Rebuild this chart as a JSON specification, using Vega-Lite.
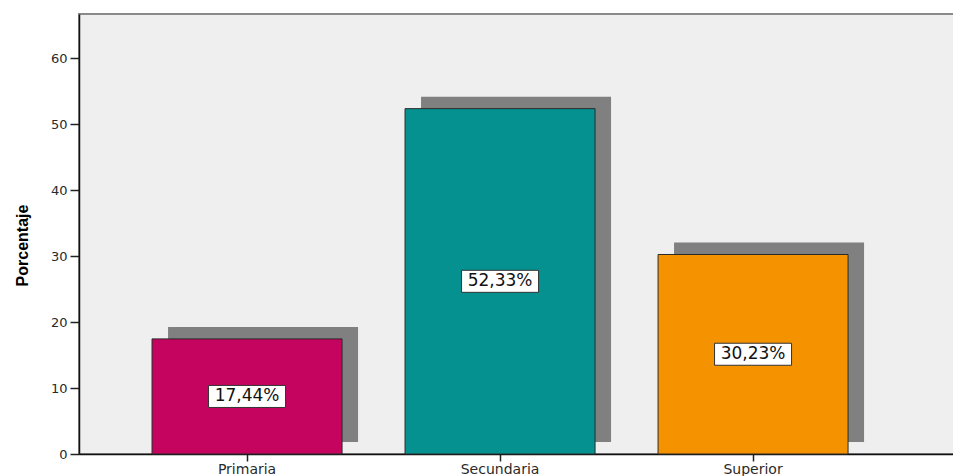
{
  "$schema": "https://vega.github.io/schema/vega-lite/v6.json",
  "width": 880,
  "height": 440,
  "autosize": {"type": "none"},
  "padding": {"left": 79, "top": 14, "right": 0, "bottom": 22},
  "background": "white",
  "config": {
    "locale": {"number": {"decimal": ",", "thousands": ".", "grouping": [3], "currency": ["", " €"]}},
    "view": {"fill": "#efefef", "stroke": "#8a8a8a", "strokeWidth": 2},
    "font": "DejaVu Sans"
  },
  "data": {
    "values": [
      {"nivel": "Primaria", "porcentaje": 17.44},
      {"nivel": "Secundaria", "porcentaje": 52.33},
      {"nivel": "Superior", "porcentaje": 30.23}
    ]
  },
  "encoding": {
    "x": {
      "field": "nivel",
      "type": "nominal",
      "sort": null,
      "scale": {"paddingInner": 0.249, "paddingOuter": 0.3636, "align": 0.397},
      "axis": {
        "title": null,
        "labelAngle": 0,
        "labelFont": "DejaVu Sans",
        "labelFontSize": 14,
        "labelColor": "#2a2a2a",
        "labelPadding": 1,
        "tickColor": "#222222",
        "tickSize": 7,
        "tickWidth": 1.5,
        "domainColor": "#111111",
        "domainWidth": 1.5
      }
    }
  },
  "layer": [
    {
      "layer": [
        {
          "mark": {"type": "bar", "color": "#808080", "xOffset": 16, "x2Offset": 16, "yOffset": -12, "y2Offset": -11},
          "encoding": {
            "y": {
              "field": "porcentaje",
              "type": "quantitative",
              "scale": {"domain": [0, 66.67], "nice": false},
              "axis": {
                "values": [0, 10, 20, 30, 40, 50, 60],
                "grid": false,
                "title": "Porcentaje",
                "titleFont": "Liberation Sans",
                "titleFontWeight": "bold",
                "titleFontSize": 16,
                "titleColor": "#000000",
                "titleBaseline": "middle",
                "titleX": -57,
                "titleY": 231,
                "labelFont": "DejaVu Sans",
                "labelFontSize": 13,
                "labelColor": "#2a2a2a",
                "labelPadding": 3,
                "tickColor": "#222222",
                "tickSize": 9,
                "tickWidth": 1.5,
                "domainColor": "#111111",
                "domainWidth": 1.5
              }
            }
          }
        },
        {
          "mark": {"type": "bar", "stroke": "#2a2a2a", "strokeWidth": 1},
          "encoding": {
            "y": {"field": "porcentaje", "type": "quantitative"},
            "color": {
              "field": "nivel",
              "type": "nominal",
              "sort": null,
              "scale": {"range": ["#c4045f", "#05918f", "#f59200"]},
              "legend": null
            }
          }
        }
      ]
    },
    {
      "layer": [
        {
          "mark": {"type": "point", "shape": "M-1,-0.286H1V0.286H-1Z", "size": 5929, "filled": true, "fill": "#ffffff", "stroke": "#333333", "strokeWidth": 1, "opacity": 1},
          "encoding": {
            "y": {"field": "porcentaje", "type": "quantitative", "scale": {"domain": [0, 133.34], "nice": false}, "axis": null}
          }
        },
        {
          "mark": {"type": "text", "font": "DejaVu Sans", "fontSize": 17, "color": "#111111", "text": {"expr": "format(datum.porcentaje, '.2f') + '%'"}},
          "encoding": {
            "y": {"field": "porcentaje", "type": "quantitative"}
          }
        }
      ]
    }
  ],
  "resolve": {"scale": {"y": "independent"}}
}
